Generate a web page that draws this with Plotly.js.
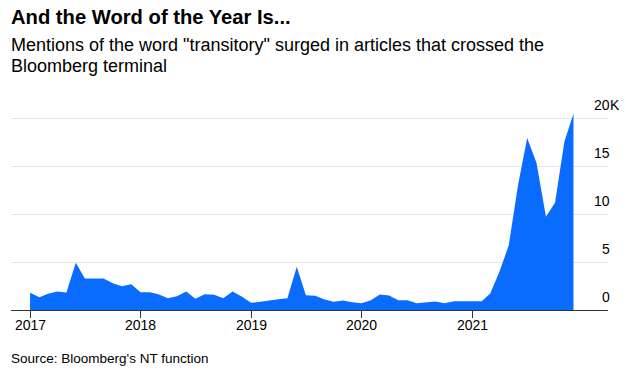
<!DOCTYPE html>
<html>
<head>
<meta charset="utf-8">
<script src="https://cdn.plot.ly/plotly-3.0.1.min.js"></script>
<style>
html,body{margin:0;padding:0;background:#fff;}
#chart{width:626px;height:374px;}
</style>
</head>
<body>
<div id="chart"></div>
<script>
const months = [
 "2017-01-01","2017-02-01","2017-03-01","2017-04-01","2017-05-01","2017-06-01","2017-07-01","2017-08-01","2017-09-01","2017-10-01","2017-11-01","2017-12-01",
 "2018-01-01","2018-02-01","2018-03-01","2018-04-01","2018-05-01","2018-06-01","2018-07-01","2018-08-01","2018-09-01","2018-10-01","2018-11-01","2018-12-01",
 "2019-01-01","2019-02-01","2019-03-01","2019-04-01","2019-05-01","2019-06-01","2019-07-01","2019-08-01","2019-09-01","2019-10-01","2019-11-01","2019-12-01",
 "2020-01-01","2020-02-01","2020-03-01","2020-04-01","2020-05-01","2020-06-01","2020-07-01","2020-08-01","2020-09-01","2020-10-01","2020-11-01","2020-12-01",
 "2021-01-01","2021-02-01","2021-03-01","2021-04-01","2021-05-01","2021-06-01","2021-07-01","2021-08-01","2021-09-01","2021-10-01","2021-11-01","2021-12-01"
];
const mentions = [
 1800,1330,1690,1930,1820,4920,3280,3280,3280,2800,2480,2690,
 1860,1860,1650,1230,1440,1930,1160,1650,1580,1230,1930,1410,
 750,850,1020,1130,1230,4500,1540,1480,1090,850,990,810,
 710,1020,1610,1510,1020,1020,710,810,880,710,920,920,
 920,920,1720,4040,6720,13070,17930,15330,9710,11170,17580,20470
];
const yTickVals = [0,5000,10000,15000,20000];
const yTickText = ["0","5","10","15","20"];
const yUnit = "K";
const xTickVals = ["2017-01-01","2018-01-01","2019-01-01","2020-01-01","2021-01-01"];
const xTickText = ["2017","2018","2019","2020","2021"];

const FONT = "Liberation Sans, Arial, Helvetica, sans-serif";

const trace = {
  type: "scatter",
  mode: "lines",
  x: months,
  y: mentions,
  fill: "tozeroy",
  fillcolor: "#0a6cff",
  line: {color: "#0a6cff", width: 0},
  hoverinfo: "x+y"
};

const annotations = [
  {xref: "paper", yref: "paper", x: 0, y: 1, xanchor: "left", yanchor: "middle",
   xshift: -2, yshift: 82,
   text: "<b>And the Word of the Year Is...</b>", showarrow: false,
   font: {size: 20.2, family: FONT, color: "#000"}, align: "left"},
  {xref: "paper", yref: "paper", x: 0, y: 1, xanchor: "left", yanchor: "middle",
   xshift: -2, yshift: 54,
   text: "Mentions of the word \"transitory\" surged in articles that crossed the",
   showarrow: false, align: "left",
   font: {size: 18, family: FONT, color: "#000"}},
  {xref: "paper", yref: "paper", x: 0, y: 1, xanchor: "left", yanchor: "middle",
   xshift: -2, yshift: 33,
   text: "Bloomberg terminal",
   showarrow: false, align: "left",
   font: {size: 18, family: FONT, color: "#000"}},
  {xref: "paper", yref: "paper", x: 0, y: 0, xanchor: "left", yanchor: "middle",
   xshift: -2, yshift: -48,
   text: "Source: Bloomberg's NT function", showarrow: false, align: "left",
   font: {size: 13.5, family: FONT, color: "#000"}}
];

yTickVals.forEach((v, i) => {
  annotations.push({
    xref: "paper", yref: "y", x: 1, y: v, xanchor: "right", yanchor: "middle",
    xshift: 3, yshift: 13, text: yTickText[i], showarrow: false, borderpad: 0,
    font: {size: 14, family: FONT, color: "#000"}
  });
});
annotations.push({
  xref: "paper", yref: "y", x: 1, y: yTickVals[yTickVals.length - 1],
  xanchor: "left", yanchor: "middle", xshift: 1, yshift: 13, text: yUnit,
  showarrow: false, borderpad: 0, font: {size: 14, family: FONT, color: "#000"}
});

xTickVals.forEach((v, i) => {
  annotations.push({
    xref: "x", yref: "paper", x: v, y: 0, xanchor: "center", yanchor: "middle",
    yshift: -15, text: xTickText[i], showarrow: false,
    font: {size: 14, family: FONT, color: "#000"}
  });
});

const layout = {
  width: 626,
  height: 374,
  paper_bgcolor: "#fff",
  plot_bgcolor: "#fff",
  showlegend: false,
  margin: {l: 11, r: 18, t: 99, b: 64, pad: 0},
  font: {family: FONT, color: "#000"},
  xaxis: {
    type: "date",
    range: ["2016-10-30", "2022-03-25"],
    tickvals: xTickVals,
    showticklabels: false,
    ticks: "outside",
    ticklen: 7,
    tickwidth: 1,
    tickcolor: "#333",
    showline: true,
    linecolor: "#333",
    linewidth: 1,
    showgrid: false,
    zeroline: false,
    fixedrange: true
  },
  yaxis: {
    side: "right",
    range: [0, 22000],
    tickvals: yTickVals,
    showticklabels: false,
    ticks: "",
    showgrid: true,
    gridcolor: "#e6e6e6",
    gridwidth: 1,
    zeroline: false,
    showline: false,
    fixedrange: true
  },
  annotations: annotations
};

Plotly.newPlot("chart", [trace], layout, {displayModeBar: false, staticPlot: true});
</script>
</body>
</html>
